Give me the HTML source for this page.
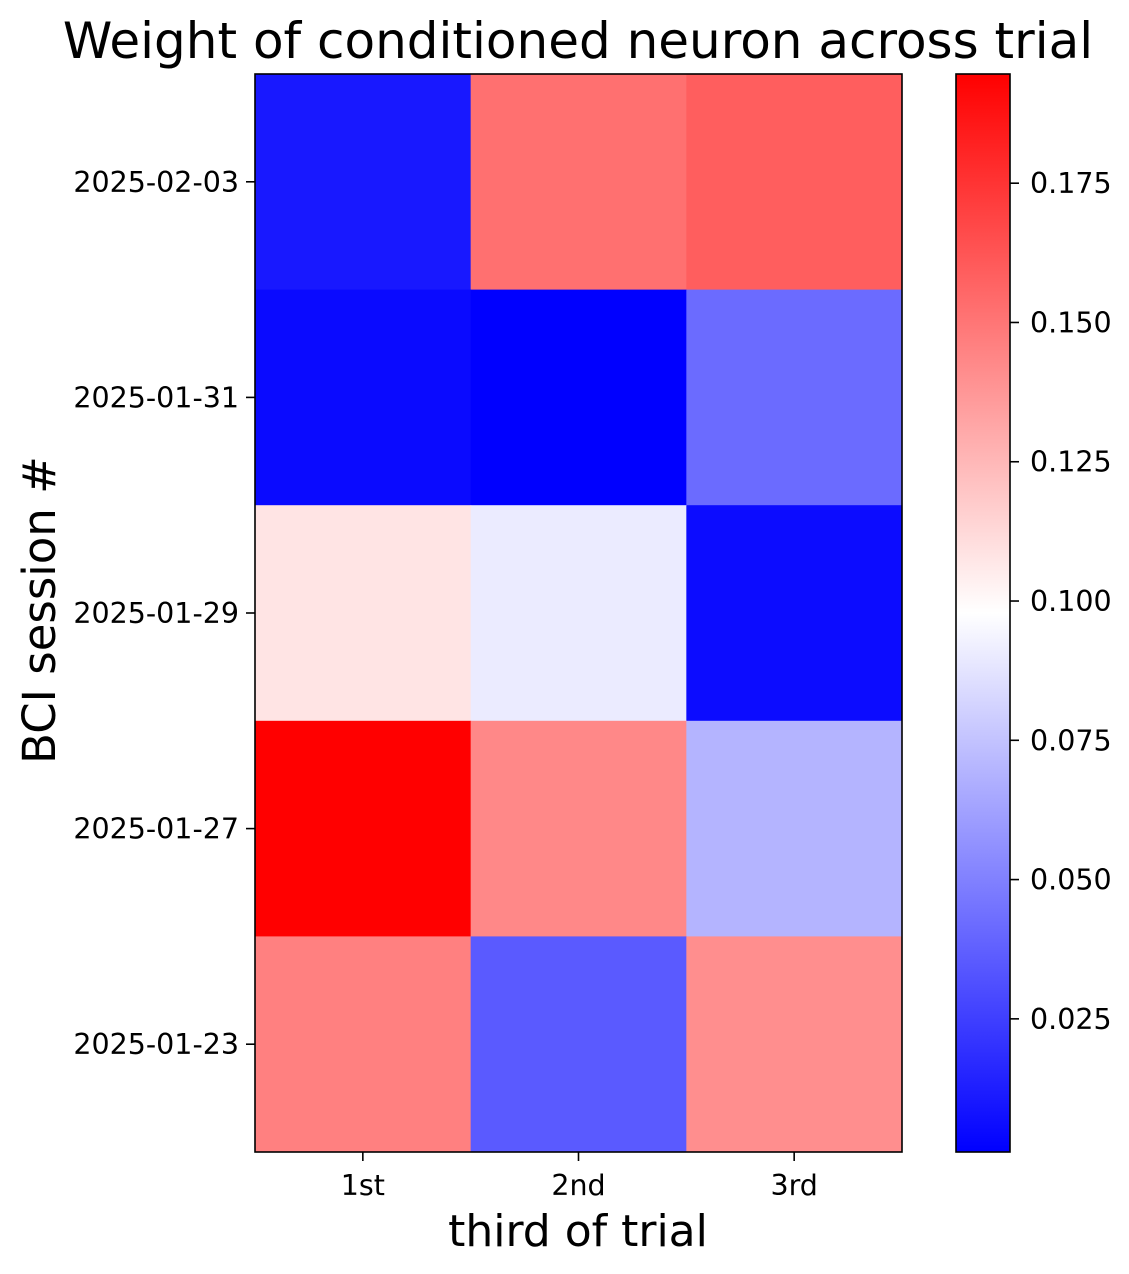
<!DOCTYPE html>
<html><head><meta charset="utf-8"><style>
body{margin:0;background:#fff}
svg{display:block;font-family:"DejaVu Sans","Liberation Sans",sans-serif}
</style></head><body>
<svg id="chart" width="1129" height="1274" viewBox="0 0 1129 1274" xmlns="http://www.w3.org/2000/svg">
<defs>
<linearGradient id="bwr" x1="0" y1="1" x2="0" y2="0">
<stop offset="0" stop-color="#0000ff"/><stop offset="0.5" stop-color="#ffffff"/><stop offset="1" stop-color="#ff0000"/>
</linearGradient>
</defs>
<text x="578" y="58" font-size="50" text-anchor="middle">Weight of conditioned neuron across trial</text>
<g id="cells"></g>
<rect x="255" y="74" width="647" height="1078" fill="none" stroke="#000" stroke-width="1.6"/>
<g id="yticks"></g>
<g id="xticks"></g>
<text x="578" y="1246" font-size="44" text-anchor="middle">third of trial</text>
<text x="0" y="0" font-size="45" text-anchor="middle" transform="translate(55,610) rotate(-90)">BCI session #</text>
<rect x="956" y="74" width="54" height="1078" fill="url(#bwr)" stroke="#000" stroke-width="1.6"/>
<g id="cbticks"></g>
</svg>
<script>
const rowLabels = ["2025-02-03","2025-01-31","2025-01-29","2025-01-27","2025-01-23"];
const colLabels = ["1st","2nd","3rd"];
const row0 = [0.0102,0.152,0.159];
const row1 = [0.005,0.0011,0.0417];
const row2 = [0.108,0.0903,0.0057];
const row3 = [0.1946,0.143,0.0694];
const row4 = [0.146,0.0352,0.1408];
const cbTickValues = [0.025,0.05,0.075,0.1,0.125,0.15,0.175];
const cbTickLabels = ["0.025","0.050","0.075","0.100","0.125","0.150","0.175"];

const rows=[row0,row1,row2,row3,row4];
const all=rows.flat();
const vmin=Math.min(...all), vmax=Math.max(...all);
const L=255,T=74,W=647,H=1078;
const cw=W/colLabels.length, rh=H/rowLabels.length;
const NS="http://www.w3.org/2000/svg";
function mk(t,a,p){const e=document.createElementNS(NS,t);for(const k in a)e.setAttribute(k,a[k]);p.appendChild(e);return e;}
function color(v){const t=(v-vmin)/(vmax-vmin);let r,g,b;
 if(t<0.5){r=g=2*t;b=1;}else{r=1;g=b=2*(1-t);}
 return `rgb(${Math.round(r*255)},${Math.round(g*255)},${Math.round(b*255)})`;}
function cy(v){return T+H-(v-vmin)/(vmax-vmin)*H;}
const cells=document.getElementById('cells');
rows.forEach((row,i)=>row.forEach((v,j)=>{
 const r=mk('rect',{x:L+j*cw,y:T+i*rh,width:cw+0.5,height:rh+0.5,fill:color(v)},cells);
 
 
}));
const yt=document.getElementById('yticks');
rowLabels.forEach((lab,i)=>{const y=T+(i+0.5)*rh;
 mk('line',{x1:L-9,x2:L,y1:y,y2:y,stroke:'#000','stroke-width':1.6},yt);
 const t=mk('text',{x:L-16,y:y+10,'font-size':28.5,'text-anchor':'end'},yt);t.textContent=lab;
 
 
});
const xt=document.getElementById('xticks');
colLabels.forEach((lab,j)=>{const x=L+(j+0.5)*cw;
 mk('line',{x1:x,x2:x,y1:T+H,y2:T+H+9,stroke:'#000','stroke-width':1.6},xt);
 const t=mk('text',{x:x,y:T+H+43,'font-size':28.5,'text-anchor':'middle'},xt);t.textContent=lab;
 
 
});
const cb=document.getElementById('cbticks');
cbTickValues.forEach((v,i)=>{const y=cy(v);
 mk('line',{x1:1010,x2:1019,y1:y,y2:y,stroke:'#000','stroke-width':1.6},cb);
 const t=mk('text',{x:1030,y:y+10,'font-size':28.5},cb);t.textContent=cbTickLabels[i];
 
 
});
</script>
</body></html>
